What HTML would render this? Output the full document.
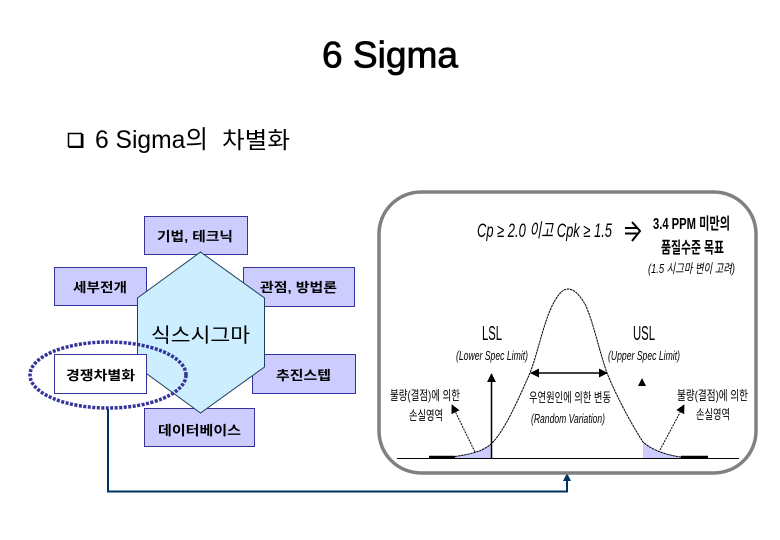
<!DOCTYPE html>
<html lang="ko">
<head>
<meta charset="utf-8">
<title>6 Sigma</title>
<style>
html,body{margin:0;padding:0;background:#fff;width:780px;height:540px;overflow:hidden}
svg{display:block}
text{font-family:"Liberation Sans","Noto Sans CJK KR","NanumGothic",sans-serif;fill:#000}
.b{font-size:13px;font-weight:700;text-anchor:start}
.s{font-size:13px}
.i{font-size:13px;font-style:italic}
</style>
</head>
<body>
<svg width="780" height="540" viewBox="0 0 780 540" xmlns="http://www.w3.org/2000/svg">
<defs>
<marker id="a" viewBox="0 0 10 10" refX="9" refY="5" markerWidth="9" markerHeight="9" markerUnits="userSpaceOnUse" orient="auto-start-reverse"><path d="M0 0L10 5L0 10z" fill="#000"/></marker>
</defs>

<text x="322" y="67.500" font-size="37" textLength="136" lengthAdjust="spacingAndGlyphs" stroke="#000" stroke-width=".8">6 Sigma</text>
<rect x="68.500" y="133.500" width="13" height="13" fill="#fff" stroke="#000" stroke-width="1.500"/>
<path d="M69 147H82.500V134" fill="none" stroke="#000" stroke-width="2"/>
<text x="95" y="148" font-size="25" textLength="113" lengthAdjust="spacingAndGlyphs">6 Sigma의</text>
<text x="222" y="148" font-size="23" textLength="68" lengthAdjust="spacingAndGlyphs">차별화</text>

<g fill="#ccccff" stroke="#333399" stroke-width="1">
<rect x="144.500" y="216.500" width="103" height="38"/>
<rect x="54.500" y="267.500" width="92" height="38"/>
<rect x="243.500" y="267.500" width="111" height="39"/>
<rect x="252.500" y="354.500" width="103" height="39"/>
<rect x="144.500" y="408.500" width="110" height="38"/>
</g>
<polygon points="200.500,252 264.500,298 264.500,367 200.500,413 137.500,367 137.500,298" fill="#cceeff" stroke="#1f3f5f" stroke-width="1"/>
<rect x="54.500" y="354.500" width="92" height="39" fill="#fff" stroke="#333399"/>

<text class="b" x="157" y="241" textLength="76" lengthAdjust="spacingAndGlyphs">기법, 테크닉</text>
<text class="b" x="73" y="292" textLength="54" lengthAdjust="spacingAndGlyphs">세부전개</text>
<text class="b" x="260" y="292" textLength="77" lengthAdjust="spacingAndGlyphs">관점, 방법론</text>
<text class="b" x="66" y="380" textLength="69" lengthAdjust="spacingAndGlyphs">경쟁차별화</text>
<text class="b" x="276" y="380" textLength="55" lengthAdjust="spacingAndGlyphs">추진스텝</text>
<text class="b" x="158" y="435" textLength="83" lengthAdjust="spacingAndGlyphs">데이터베이스</text>
<text x="151" y="342" font-size="20" textLength="99" lengthAdjust="spacingAndGlyphs">식스시그마</text>

<ellipse cx="108" cy="375" rx="78" ry="33" fill="none" stroke="#333399" stroke-width="3.500" stroke-dasharray="3 1.500"/>

<path d="M108 409V491.500H567V480" fill="none" stroke="#003366" stroke-width="2"/>
<polygon points="567,473 571,481 563,481" fill="#003366"/>

<rect x="379" y="192" width="377" height="281" rx="42" ry="42" fill="#fff" stroke="#808080" stroke-width="3.500"/>

<path d="M455 456.500C472 454 484 451 492 443V458H455Z" fill="#ccccff"/>
<path d="M643 442C652 450 666 455 681 457V458H643Z" fill="#ccccff"/>

<path fill="none" stroke="#000" stroke-width="1" stroke-dasharray="2.500 .6" d="M455 456.500C472 454 484 451 492 443C505 430 518 400 530 373C538 352 543 325 552 306C557 296 562 289 568 289C575 289 581 297 586 306C594 325 599 350 607 373C616 395 630 422 643 442C652 450 666 455 681 457"/>
<line x1="397" y1="458.500" x2="739" y2="458.500" stroke="#000" stroke-width="1"/>
<line x1="429" y1="457" x2="455" y2="457" stroke="#000" stroke-width="2.500"/>
<line x1="681" y1="457" x2="708" y2="457" stroke="#000" stroke-width="2.500"/>

<line x1="491.500" y1="458" x2="491.500" y2="374" stroke="#000" stroke-width="1.500" marker-end="url(#a)"/>
<line x1="531" y1="373" x2="607" y2="373" stroke="#000" stroke-width="1.500" marker-start="url(#a)" marker-end="url(#a)"/>
<polygon points="642,378 646,386 638,386" fill="#000"/>
<line x1="475" y1="452" x2="452" y2="405" stroke="#000" stroke-width="1" stroke-dasharray="2 1" marker-end="url(#a)"/>
<line x1="660" y1="450" x2="684" y2="405" stroke="#000" stroke-width="1" stroke-dasharray="2 1" marker-end="url(#a)"/>

<text x="477" y="237" font-size="19" font-style="italic" textLength="135" lengthAdjust="spacingAndGlyphs">Cp ≥ 2.0 이고 Cpk ≥ 1.5</text>
<path d="M625 228H637M625 233.500H637" stroke="#000" stroke-width="2" fill="none"/>
<path d="M632 222L640 231L632 241" stroke="#000" stroke-width="2" fill="none"/>
<text x="653" y="229" font-size="16" font-weight="700" textLength="77" lengthAdjust="spacingAndGlyphs">3.4 PPM 미만의</text>
<text x="661" y="253" font-size="16" font-weight="700" textLength="63" lengthAdjust="spacingAndGlyphs">품질수준 목표</text>
<text class="i" x="648" y="273" textLength="87" lengthAdjust="spacingAndGlyphs">(1.5 시그마 변이 고려)</text>

<text x="482" y="340" font-size="20" textLength="20" lengthAdjust="spacingAndGlyphs">LSL</text>
<text x="633" y="340" font-size="20" textLength="22" lengthAdjust="spacingAndGlyphs">USL</text>
<text class="i" x="456" y="360" textLength="72" lengthAdjust="spacingAndGlyphs">(Lower Spec Limit)</text>
<text class="i" x="608" y="360" textLength="72" lengthAdjust="spacingAndGlyphs">(Upper Spec Limit)</text>

<text class="s" x="390" y="400" textLength="70" lengthAdjust="spacingAndGlyphs">불량(결점)에 의한</text>
<text class="s" x="409" y="420" textLength="34" lengthAdjust="spacingAndGlyphs">손실영역</text>
<text class="s" x="677" y="400" textLength="71" lengthAdjust="spacingAndGlyphs">불량(결점)에 의한</text>
<text class="s" x="696" y="419" textLength="34" lengthAdjust="spacingAndGlyphs">손실영역</text>
<text class="s" x="529" y="402" textLength="82" lengthAdjust="spacingAndGlyphs">우연원인에 의한 변동</text>
<text class="i" x="531" y="423" textLength="74" lengthAdjust="spacingAndGlyphs">(Random Variation)</text>
</svg>
</body>
</html>
